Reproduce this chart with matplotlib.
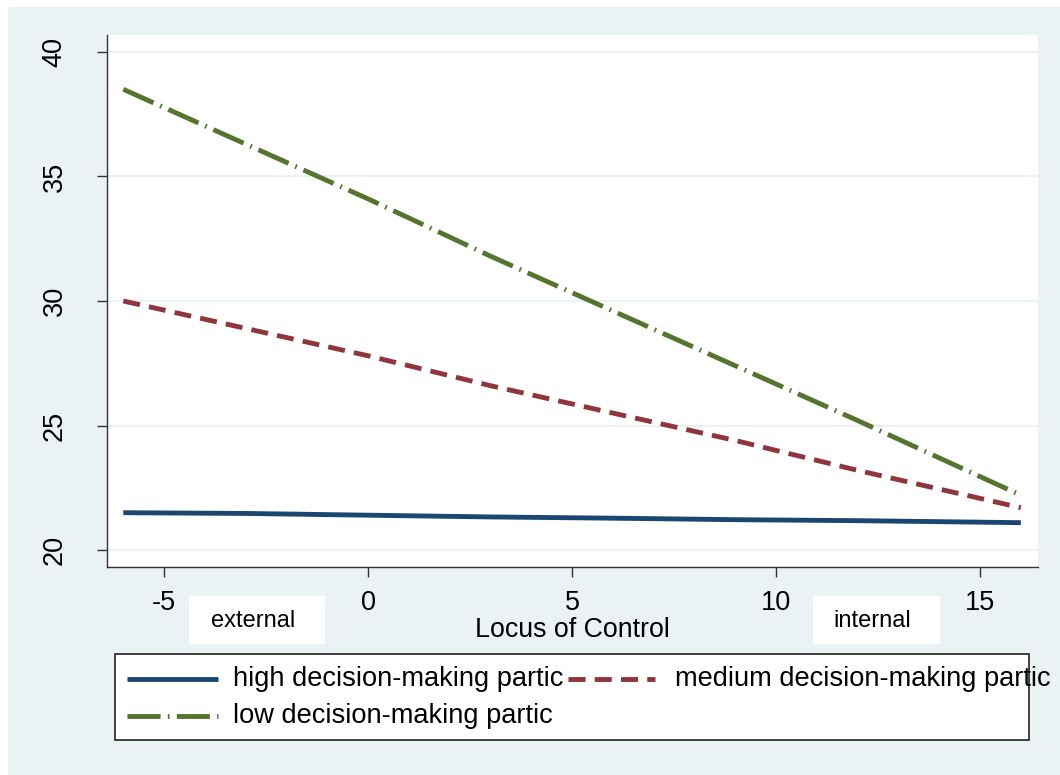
import matplotlib
matplotlib.use('Agg')
import matplotlib.pyplot as plt
from matplotlib.patches import Rectangle

plt.rcParams['font.family'] = ['Liberation Sans', 'DejaVu Sans']
plt.rcParams['axes.unicode_minus'] = False

# values
locus = [-6, -3, 0, 3, 6, 9, 12, 16]
high_dm = [21.5, 21.47, 21.4, 21.33, 21.28, 21.22, 21.18, 21.1]
medium_dm = [30.0, 28.9, 27.8, 26.6, 25.5, 24.4, 23.2, 21.7]
low_dm = [38.5, 36.3, 34.1, 31.8, 29.6, 27.4, 25.2, 22.2]
series_names = ['high decision-making partic', 'medium decision-making partic',
                'low decision-making partic']
xticks = [-5, 0, 5, 10, 15]
yticks = [20, 25, 30, 35, 40]

BG = '#eaf2f3'
NAVY = '#1a476f'
MAROON = '#90353b'
GREEN = '#55752f'
LW = 3.5
DASH = (0, (3.5, 1.9))
LONGDASH_DOT = (0, (6.8, 1.5, 0.35, 1.5))

W, H = 1060, 775
fig = plt.figure(figsize=(W / 100, H / 100), dpi=100, facecolor='white')
# outer graph region (white sliver at top/left as in the original export)
fig.patches.append(Rectangle((8 / W, 0), 1, (H - 7) / H, transform=fig.transFigure,
                             facecolor=BG, edgecolor='none', zorder=-10))

ax = fig.add_axes([107 / W, (H - 567) / H, (1038 - 107) / W, (567 - 35) / H])
ax.set_facecolor('white')

ax.plot(locus, high_dm, color=NAVY, lw=LW, solid_capstyle='butt')
ax.plot(locus, medium_dm, color=MAROON, lw=LW, linestyle=DASH, dash_capstyle='butt')
ax.plot(locus, low_dm, color=GREEN, lw=LW, linestyle=LONGDASH_DOT, dash_capstyle='butt')

ax.set_xlim(-6.4, 16.42)
ax.set_ylim(19.32, 40.68)
ax.set_xticks(xticks)
ax.set_yticks(yticks)
ax.tick_params(axis='both', direction='out', length=7.5, width=1, color='#333333',
               labelsize=19.5)
ax.tick_params(axis='y', pad=21)
ax.tick_params(axis='x', pad=9)
for lab in ax.get_yticklabels():
    lab.set_rotation(90)
    lab.set_va('center')
ax.grid(True, axis='y', color=BG, lw=1.5)
ax.set_axisbelow(True)
for side in ['top', 'right']:
    ax.spines[side].set_visible(False)
for side in ['left', 'bottom']:
    ax.spines[side].set_color('#333333')
    ax.spines[side].set_linewidth(1)
ax.set_xlabel('Locus of Control', fontsize=19.3, labelpad=1)

# overlay in pixel coordinates for the annotation boxes and legend
ov = fig.add_axes([0, 0, 1, 1])
ov.set_xlim(0, W)
ov.set_ylim(H, 0)
ov.axis('off')
ov.patch.set_alpha(0)

for (x0, x1, label) in [(189, 325, 'external'), (813, 940, 'internal')]:
    ov.add_patch(Rectangle((x0, 596), x1 - x0, 48, facecolor='white', edgecolor='none'))
    ov.text((x0 + x1) / 2 - 4, 621, label, ha='center', va='center', fontsize=17)

ov.add_patch(Rectangle((115, 654), 1029 - 115, 86, facecolor='white',
                       edgecolor='#222222', lw=1.2))
legend_items = [
    (127, 218, 679, NAVY, '-', series_names[0]),
    (568, 655, 679, MAROON, DASH, series_names[1]),
    (127, 218, 716, GREEN, LONGDASH_DOT, series_names[2]),
]
for x0, x1, y, col, ls, name in legend_items:
    ov.plot([x0, x1], [y, y], color=col, lw=LW, linestyle=ls,
            solid_capstyle='butt', dash_capstyle='butt')
    ov.text(x1 + 15 if x0 == 127 else x1 + 20, y, name, ha='left', va='center',
            fontsize=19.6)

fig.savefig('out.png', dpi=100, facecolor='white')
